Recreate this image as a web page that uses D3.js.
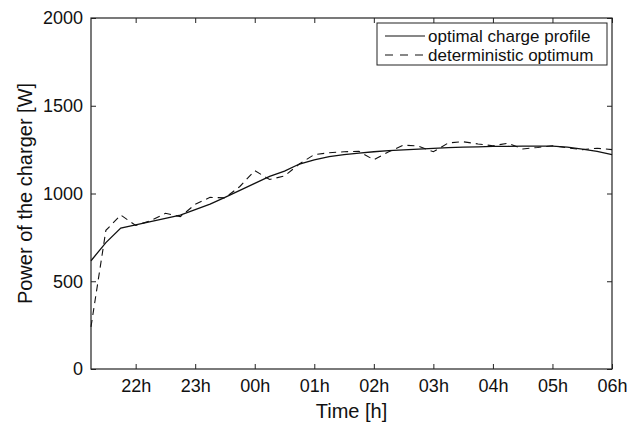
<!DOCTYPE html>
<html>
<head>
<meta charset="utf-8">
<script src="https://cdn.jsdelivr.net/npm/d3@7"></script>
<style>
  html, body { margin: 0; padding: 0; background: #fff; }
  svg { display: block; font-family: "Liberation Sans", Arial, Helvetica, sans-serif; }
</style>
</head>
<body>
<svg id="chart" width="641" height="422"></svg>
<script>
// Quarter-hour steps from 21:15 to 06:00 (hours past midnight of the first day)
const startHour = 21.25;
const stepHours = 0.25;

// Charger power [W]
const optimalProfile = [
  617, 720, 803, 821, 840, 858, 877, 908, 940, 978,
  1018, 1058, 1098, 1128, 1168, 1192, 1210, 1221, 1230, 1238,
  1244, 1249, 1253, 1257, 1261, 1264, 1266, 1268, 1269, 1270,
  1270, 1270, 1264, 1253, 1240, 1222
];
const deterministicOptimum = [
  240, 790, 877, 818, 845, 887, 868, 938, 978, 975,
  1040, 1130, 1080, 1100, 1168, 1222, 1232, 1238, 1240, 1192,
  1238, 1276, 1270, 1238, 1288, 1295, 1282, 1272, 1286, 1254,
  1262, 1272, 1260, 1250, 1258, 1250
];

const xTickHours = [22, 23, 24, 25, 26, 27, 28, 29, 30];
const xTickLabels = ["22h", "23h", "00h", "01h", "02h", "03h", "04h", "05h", "06h"];
const yTicks = [0, 500, 1000, 1500, 2000];

const seriesNames = ["optimal charge profile", "deterministic optimum"];

const margin = { left: 91, top: 18, right: 29, bottom: 53 };
const W = 641, H = 422;
const innerW = W - margin.left - margin.right;
const innerH = H - margin.top - margin.bottom;

const svg = d3.select("#chart");
const g = svg.append("g").attr("transform", `translate(${margin.left},${margin.top})`);

const endHour = startHour + stepHours * (optimalProfile.length - 1);
const x = d3.scaleLinear().domain([startHour, endHour]).range([0, innerW]);
const y = d3.scaleLinear().domain([0, 2000]).range([innerH, 0]);

const axisColor = "#222";
const tickLen = 5;

// Bottom axis with inward ticks
const xAxis = d3.axisBottom(x)
  .tickValues(xTickHours)
  .tickFormat((d, i) => xTickLabels[i])
  .tickSizeInner(-tickLen).tickSizeOuter(0).tickPadding(10);
const gx = g.append("g").attr("transform", `translate(0,${innerH})`).call(xAxis);

// Top axis ticks (no labels)
const gxTop = g.append("g").call(
  d3.axisTop(x).tickValues(xTickHours).tickFormat("").tickSizeInner(-tickLen).tickSizeOuter(0)
);

// Left axis with inward ticks
const yAxis = d3.axisLeft(y).tickValues(yTicks).tickFormat(d3.format("d"))
  .tickSizeInner(-tickLen).tickSizeOuter(0).tickPadding(8);
const gy = g.append("g").call(yAxis);

// Right axis ticks (no labels)
const gyRight = g.append("g").attr("transform", `translate(${innerW},0)`).call(
  d3.axisRight(y).tickValues(yTicks).tickFormat("").tickSizeInner(-tickLen).tickSizeOuter(0)
);

[gx, gxTop, gy, gyRight].forEach(a => {
  a.select(".domain").remove();
  a.selectAll(".tick line").attr("stroke", axisColor);
  a.selectAll(".tick text").attr("fill", "#111").style("font-size", "18px")
    .style("font-family", "'Liberation Sans', Arial, sans-serif");
});

// Plot frame
g.append("rect")
  .attr("x", 0).attr("y", 0).attr("width", innerW).attr("height", innerH)
  .attr("fill", "none").attr("stroke", axisColor).attr("stroke-width", 1.2);

// Series lines
const line = d3.line()
  .x((d, i) => x(startHour + i * stepHours))
  .y(d => y(d));

g.append("path").datum(deterministicOptimum)
  .attr("d", line).attr("fill", "none")
  .attr("stroke", "#111").attr("stroke-width", 1.1)
  .attr("stroke-dasharray", "7,5");

g.append("path").datum(optimalProfile)
  .attr("d", line).attr("fill", "none")
  .attr("stroke", "#111").attr("stroke-width", 1.3);

// Axis titles
svg.append("text")
  .attr("x", margin.left + innerW / 2).attr("y", 418)
  .attr("text-anchor", "middle").attr("fill", "#111")
  .style("font-size", "20px")
  .text("Time [h]");

svg.append("text")
  .attr("transform", `translate(32,${margin.top + innerH / 2}) rotate(-90)`)
  .attr("text-anchor", "middle").attr("fill", "#111")
  .style("font-size", "20px")
  .text("Power of the charger [W]");

// Legend
const legend = svg.append("g").attr("transform", "translate(377,23)");
legend.append("rect")
  .attr("x", 0).attr("y", 0).attr("width", 230).attr("height", 42)
  .attr("fill", "#fff").attr("stroke", axisColor).attr("stroke-width", 1);

const legendRows = [
  { name: seriesNames[0], dash: null, yy: 13 },
  { name: seriesNames[1], dash: "8,7", yy: 32 }
];
legendRows.forEach(r => {
  legend.append("line")
    .attr("x1", 8).attr("x2", 48).attr("y1", r.yy).attr("y2", r.yy)
    .attr("stroke", "#111").attr("stroke-width", 1.1)
    .attr("stroke-dasharray", r.dash);
  legend.append("text")
    .attr("x", 51).attr("y", r.yy + 6)
    .attr("fill", "#111").style("font-size", "17px")
    .text(r.name);
});
</script>
</body>
</html>
